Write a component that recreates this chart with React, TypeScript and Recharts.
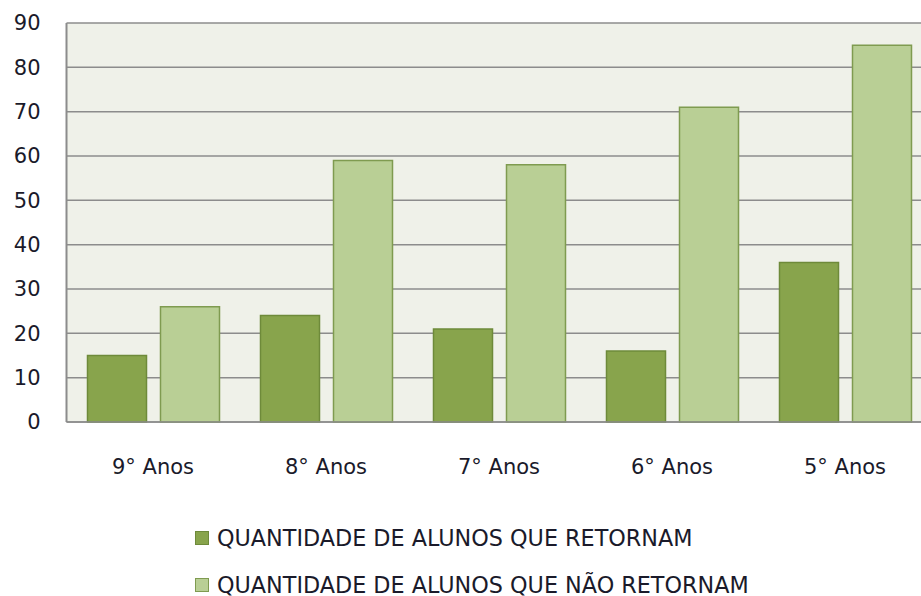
import React from 'react';
import { BarChart, Bar, XAxis, YAxis, CartesianGrid, Legend } from 'recharts';

const categories = ['9° Anos', '8° Anos', '7° Anos', '6° Anos', '5° Anos'];
const retornam = [15, 24, 21, 16, 36];
const naoRetornam = [26, 59, 58, 71, 85];
const yTicks = [0, 10, 20, 30, 40, 50, 60, 70, 80, 90];
const seriesNames = ['QUANTIDADE DE ALUNOS QUE RETORNAM', 'QUANTIDADE DE ALUNOS QUE NÃO RETORNAM'];
const seriesFill = ['#88a44c', '#b9cf95'];
const seriesStroke = ['#6e8a3a', '#7f9b50'];

const data = categories.map((c, i) => ({ name: c, a: retornam[i], b: naoRetornam[i] }));

const FONT = '"DejaVu Sans", Verdana, sans-serif';

const LegendContent = () => {
  return (
    <div style={{ height: 90, fontFamily: FONT }}>
      {seriesNames.map((n, i) => (
        <div key={i} style={{ display: 'flex', alignItems: 'center', height: 47, paddingTop: i === 0 ? 8 : 0 }}>
          <span style={{ display: 'inline-block', width: 12, height: 12, background: seriesFill[i], border: '1px solid ' + seriesStroke[i], marginRight: 8 }} />
          <span style={{ fontSize: 22.3, color: '#1a1a2a', whiteSpace: 'nowrap' }}>{n}</span>
        </div>
      ))}
    </div>
  );
};

export default function App() {
  return (
    <div style={{ position: 'absolute', left: 0, top: 0, width: 921, height: 596, overflow: 'hidden', background: '#fff' }}>
      <BarChart
        width={940}
        height={596}
        data={data}
        margin={{ top: 23, right: 8.5, left: 10, bottom: 0 }}
        barCategoryGap={21}
        barGap={14}
      >
        <CartesianGrid vertical={false} stroke="#8c8c8c" strokeWidth={1.5} fill="#eff1e9" />
        <XAxis
          dataKey="name"
          height={84}
          tickLine={false}
          axisLine={{ stroke: '#8c8c8c', strokeWidth: 1.5 }}
          tickSize={0}
          tickMargin={37.5}
          tick={{ fontSize: 21, fill: '#1a1a2a', fontFamily: FONT }}
          interval={0}
        />
        <YAxis
          width={56.5}
          domain={[0, 90]}
          ticks={yTicks}
          tickLine={false}
          axisLine={{ stroke: '#8c8c8c', strokeWidth: 2 }}
          tickSize={0}
          tickMargin={26}
          tick={{ fontSize: 21, fill: '#1a1a2a', fontFamily: FONT }}
          interval={0}
        />
        <Legend
          verticalAlign="bottom"
          layout="vertical"
          content={<LegendContent />}
          wrapperStyle={{ left: 195, width: 720, height: 90 }}
        />
        <Bar dataKey="a" name={seriesNames[0]} fill={seriesFill[0]} stroke={seriesStroke[0]} strokeWidth={1.5} isAnimationActive={false} />
        <Bar dataKey="b" name={seriesNames[1]} fill={seriesFill[1]} stroke={seriesStroke[1]} strokeWidth={1.5} isAnimationActive={false} />
      </BarChart>
    </div>
  );
}
